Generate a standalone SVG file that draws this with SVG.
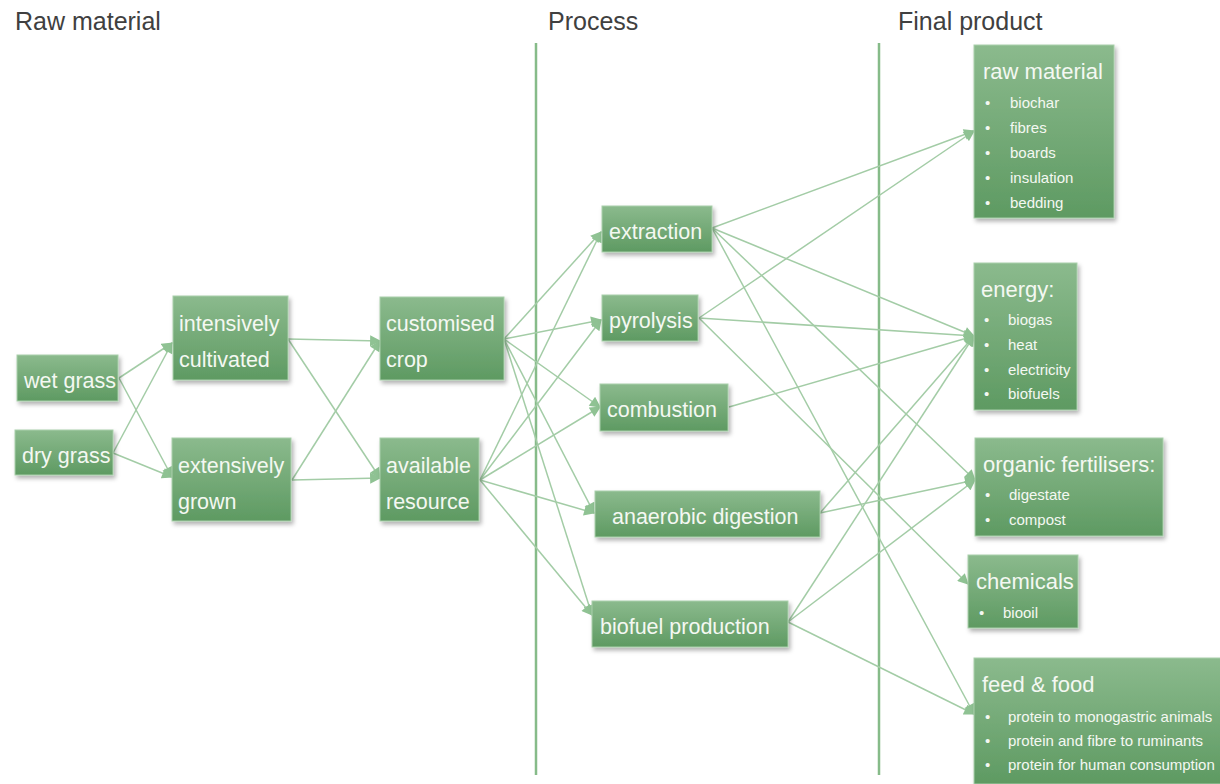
<svg xmlns="http://www.w3.org/2000/svg" width="1220" height="784" viewBox="0 0 1220 784">
  <defs>
    <linearGradient id="boxFill" x1="0" y1="0" x2="0" y2="1">
      <stop offset="0" stop-color="#8bba8d"/>
      <stop offset="1" stop-color="#5e9a62"/>
    </linearGradient>
    <filter id="shadow" x="-10%" y="-10%" width="130%" height="140%">
      <feDropShadow dx="2" dy="3" stdDeviation="2" flood-color="#000" flood-opacity="0.3"/>
    </filter>
    <marker id="arrow" viewBox="0 0 10 10" refX="9" refY="5" markerUnits="userSpaceOnUse" markerWidth="12" markerHeight="11" orient="auto">
      <path d="M0,0 L10,5 L0,10 z" fill="#8fc293"/>
    </marker>
    <style>
      .title { font-family: "Liberation Sans", Arial, sans-serif; font-size: 25px; fill: #404040; }
      .box { fill: url(#boxFill); stroke: #a9cfab; stroke-width: 1; filter: url(#shadow); }
      .lbl { font-family: "Liberation Sans", Arial, sans-serif; font-size: 21.5px; fill: #f4f8f2; }
      .head { font-family: "Liberation Sans", Arial, sans-serif; font-size: 22px; fill: #f4f8f2; }
      .item { font-family: "Liberation Sans", Arial, sans-serif; font-size: 15px; fill: #f4f8f2; }
      .sep { stroke: #86bb89; stroke-width: 2.5; }
      .edge { stroke: #a3cca6; stroke-width: 1.5; fill: none; marker-end: url(#arrow); }
    </style>
  </defs>

  <rect width="1220" height="784" fill="#ffffff"/>

  <!-- column headings -->
  <g id="headings">
    <text class="title" x="15" y="30">Raw material</text>
    <text class="title" x="548" y="30">Process</text>
    <text class="title" x="898" y="30">Final product</text>
  </g>

  <!-- column separators -->
  <g id="separators">
    <line class="sep" x1="536" y1="43" x2="536" y2="775"/>
    <line class="sep" x1="879" y1="43" x2="879" y2="775"/>
  </g>

  <!-- connectors -->
  <g id="connectors">
    <!-- grass types to cultivation -->
    <line class="edge" x1="119" y1="378" x2="172" y2="343"/>
    <line class="edge" x1="119" y1="378" x2="172" y2="477"/>
    <line class="edge" x1="113" y1="453" x2="172" y2="343"/>
    <line class="edge" x1="113" y1="453" x2="172" y2="477"/>
    <!-- cultivation to resource -->
    <line class="edge" x1="288" y1="339" x2="380" y2="341"/>
    <line class="edge" x1="288" y1="339" x2="380" y2="478"/>
    <line class="edge" x1="292" y1="480" x2="380" y2="341"/>
    <line class="edge" x1="292" y1="480" x2="380" y2="478"/>
    <!-- resource to processes -->
    <line class="edge" x1="504" y1="339" x2="601" y2="232"/>
    <line class="edge" x1="504" y1="339" x2="601" y2="320"/>
    <line class="edge" x1="504" y1="339" x2="600" y2="407"/>
    <line class="edge" x1="504" y1="339" x2="594" y2="513"/>
    <line class="edge" x1="504" y1="339" x2="592" y2="615"/>
    <line class="edge" x1="480" y1="480" x2="601" y2="232"/>
    <line class="edge" x1="480" y1="480" x2="601" y2="320"/>
    <line class="edge" x1="480" y1="480" x2="600" y2="407"/>
    <line class="edge" x1="480" y1="480" x2="594" y2="513"/>
    <line class="edge" x1="480" y1="480" x2="592" y2="615"/>
    <!-- processes to final products -->
    <line class="edge" x1="712" y1="228" x2="974" y2="131"/>
    <line class="edge" x1="712" y1="228" x2="974" y2="336"/>
    <line class="edge" x1="712" y1="228" x2="975" y2="480"/>
    <line class="edge" x1="712" y1="228" x2="974" y2="714"/>
    <line class="edge" x1="699" y1="318" x2="974" y2="131"/>
    <line class="edge" x1="699" y1="318" x2="974" y2="336"/>
    <line class="edge" x1="699" y1="318" x2="968" y2="584"/>
    <line class="edge" x1="729" y1="407" x2="974" y2="336"/>
    <line class="edge" x1="820" y1="513" x2="974" y2="336"/>
    <line class="edge" x1="820" y1="513" x2="975" y2="480"/>
    <line class="edge" x1="788" y1="622" x2="974" y2="336"/>
    <line class="edge" x1="788" y1="622" x2="975" y2="480"/>
    <line class="edge" x1="788" y1="622" x2="974" y2="714"/>
  </g>

  <!-- raw material column -->
  <g id="wet-grass">
    <rect class="box" x="17" y="355" width="101" height="46"/>
    <text class="lbl" x="24" y="388">wet grass</text>
  </g>
  <g id="dry-grass">
    <rect class="box" x="15" y="430" width="98" height="45"/>
    <text class="lbl" x="22" y="463">dry grass</text>
  </g>
  <g id="intensively-cultivated">
    <rect class="box" x="173" y="296" width="115" height="84"/>
    <text class="lbl" x="179" y="331">intensively</text>
    <text class="lbl" x="179" y="367">cultivated</text>
  </g>
  <g id="extensively-grown">
    <rect class="box" x="172" y="438" width="119" height="83"/>
    <text class="lbl" x="178" y="473">extensively</text>
    <text class="lbl" x="178" y="509">grown</text>
  </g>
  <g id="customised-crop">
    <rect class="box" x="380" y="297" width="124" height="83"/>
    <text class="lbl" x="386" y="331">customised</text>
    <text class="lbl" x="386" y="367">crop</text>
  </g>
  <g id="available-resource">
    <rect class="box" x="380" y="438" width="99" height="83"/>
    <text class="lbl" x="386" y="473">available</text>
    <text class="lbl" x="386" y="509">resource</text>
  </g>

  <!-- process column -->
  <g id="extraction">
    <rect class="box" x="602" y="206" width="110" height="46"/>
    <text class="lbl" x="609" y="239">extraction</text>
  </g>
  <g id="pyrolysis">
    <rect class="box" x="602" y="295" width="96" height="46"/>
    <text class="lbl" x="609" y="328">pyrolysis</text>
  </g>
  <g id="combustion">
    <rect class="box" x="600" y="384" width="128" height="47"/>
    <text class="lbl" x="607" y="417">combustion</text>
  </g>
  <g id="anaerobic-digestion">
    <rect class="box" x="595" y="491" width="225" height="46"/>
    <text class="lbl" x="612" y="524">anaerobic digestion</text>
  </g>
  <g id="biofuel-production">
    <rect class="box" x="592" y="601" width="196" height="46"/>
    <text class="lbl" x="600" y="634">biofuel production</text>
  </g>

  <!-- final product column -->
  <g id="raw-material-products">
    <rect class="box" x="974" y="45" width="140" height="173"/>
    <text class="head" x="983" y="79">raw material</text>
    <g class="item">
      <text x="985" y="108">•</text><text x="1010" y="108">biochar</text>
      <text x="985" y="133">•</text><text x="1010" y="133">fibres</text>
      <text x="985" y="158">•</text><text x="1010" y="158">boards</text>
      <text x="985" y="183">•</text><text x="1010" y="183">insulation</text>
      <text x="985" y="208">•</text><text x="1010" y="208">bedding</text>
    </g>
  </g>
  <g id="energy">
    <rect class="box" x="974" y="263" width="103" height="147"/>
    <text class="head" x="981" y="297">energy:</text>
    <g class="item">
      <text x="984" y="325">•</text><text x="1008" y="325">biogas</text>
      <text x="984" y="350">•</text><text x="1008" y="350">heat</text>
      <text x="984" y="375">•</text><text x="1008" y="375">electricity</text>
      <text x="984" y="399">•</text><text x="1008" y="399">biofuels</text>
    </g>
  </g>
  <g id="organic-fertilisers">
    <rect class="box" x="975" y="438" width="188" height="98"/>
    <text class="head" x="983" y="472">organic fertilisers:</text>
    <g class="item">
      <text x="985" y="500">•</text><text x="1009" y="500">digestate</text>
      <text x="985" y="525">•</text><text x="1009" y="525">compost</text>
    </g>
  </g>
  <g id="chemicals">
    <rect class="box" x="968" y="555" width="110" height="73"/>
    <text class="head" x="976" y="589">chemicals</text>
    <g class="item">
      <text x="979" y="618">•</text><text x="1003" y="618">biooil</text>
    </g>
  </g>
  <g id="feed-and-food">
    <rect class="box" x="974" y="658" width="250" height="126"/>
    <text class="head" x="982" y="692">feed &amp; food</text>
    <g class="item">
      <text x="985" y="722">•</text><text x="1008" y="722">protein to monogastric animals</text>
      <text x="985" y="746">•</text><text x="1008" y="746">protein and fibre to ruminants</text>
      <text x="985" y="770">•</text><text x="1008" y="770">protein for human consumption</text>
    </g>
  </g>
</svg>
